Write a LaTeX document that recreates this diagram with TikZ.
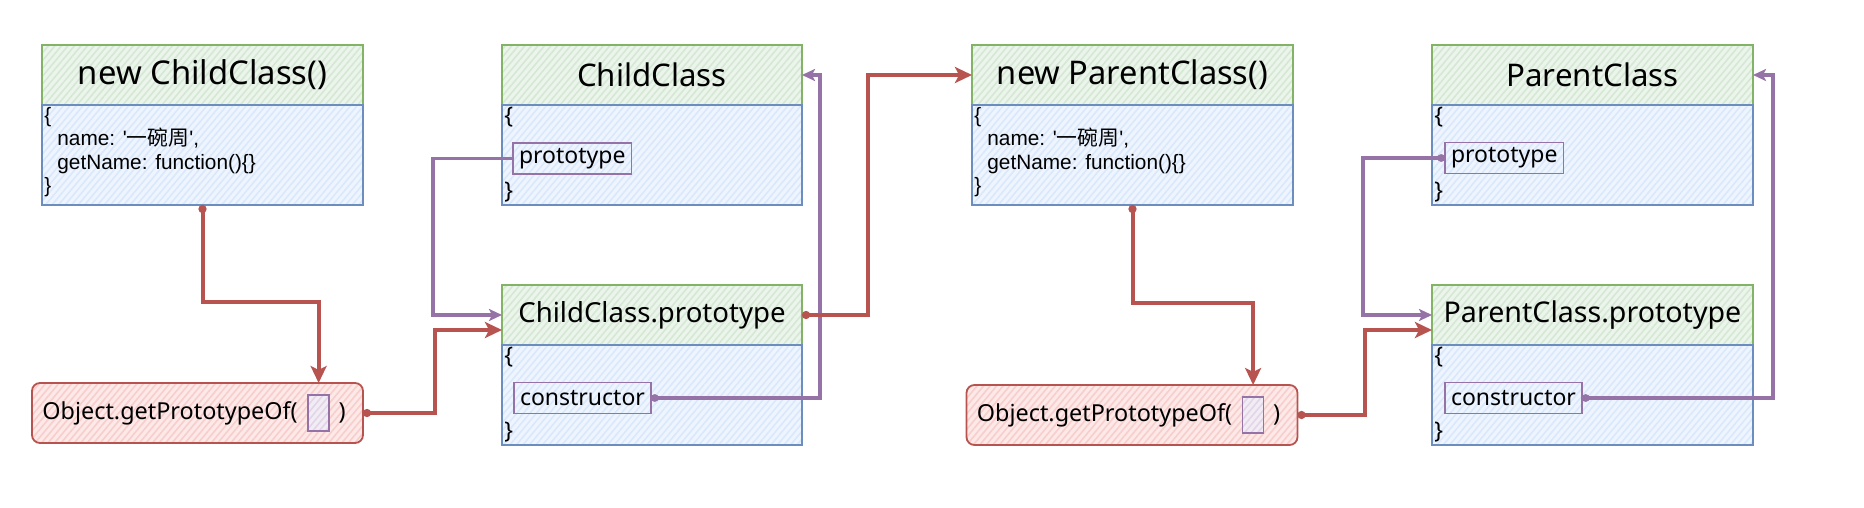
\documentclass[tikz,border=0pt]{standalone}
\usepackage{fontspec}
\setmainfont{Noto Sans}
\newfontfamily\codefont{Liberation Sans}
\newfontfamily\cjk{Noto Sans CJK SC}
\usetikzlibrary{positioning,arrows.meta,patterns.meta}
\definecolor{greenF}{HTML}{D5E8D4}
\definecolor{greenS}{HTML}{82B366}
\definecolor{blueF}{HTML}{DAE8FC}
\definecolor{blueS}{HTML}{6C8EBF}
\definecolor{redF}{HTML}{F8CECC}
\definecolor{redS}{HTML}{B85450}
\definecolor{purpF}{HTML}{E1D5E7}
\definecolor{purpS}{HTML}{9673A6}
\tikzset{hatch/.style 2 args={draw=#2, preaction={fill=#1!45},
        pattern={Lines[angle=50,distance=2.5pt,line width=0.8pt]}, pattern color=#1},
    head/.style={hatch={greenF}{greenS}, line width=0.9pt, minimum height=30pt,
        inner sep=0pt, outer sep=0pt, font=\fontsize{15.6}{18}\selectfont},
    body/.style={hatch={blueF}{blueS}, line width=0.9pt, minimum height=50pt,
        inner sep=0pt, outer sep=0pt},
    field/.style={draw=purpS, line width=0.8pt, inner xsep=3pt, inner ysep=0pt,
        minimum height=15.5pt, outer sep=0pt, font=\fontsize{11.5}{13}\selectfont},
    brace/.style={inner sep=1pt, font=\fontsize{11.5}{13}\selectfont},
    code/.style={inner sep=1pt, align=left, font=\codefont\fontsize{10.4}{11.7}\selectfont},
    objbox/.style={hatch={redF}{redS}, line width=0.9pt, rounded corners=4pt,
        minimum width=165.5pt, minimum height=30pt, outer sep=0pt},
    objtext/.style={inner sep=0pt, font=\fontsize{11.7}{14}\selectfont},
    slot/.style={hatch={purpF}{purpS}, line width=0.8pt, minimum width=10.5pt,
        minimum height=18pt, inner sep=0pt, outer sep=0pt},
    redline/.style={draw=redS, line width=2pt, -{Stealth[length=8.5pt,width=8pt,inset=2pt]}},
    reddot/.style={redline, {Circle[length=4pt]}-{Stealth[length=8.5pt,width=8pt,inset=2pt]}},
    purpline/.style={draw=purpS, line width=1.6pt, -{Stealth[length=6.5pt,width=6pt,inset=1.5pt]}},
    purpdot/.style={purpline, {Circle[length=3.8pt]}-{Stealth[length=6.5pt,width=6pt,inset=1.5pt]}},
    }
\begin{document}
\begin{tikzpicture}[x=0.5pt,y=-0.5pt]
	\useasboundingbox (0,0) rectangle (1864,508);
	% instance of ChildClass
	\node[head, minimum width=160.5pt, font=\fontsize{16.4}{18}\selectfont] (h1) at (202.5,75) {new ChildClass()};
	\node[body, minimum width=160.5pt, below=0pt of h1] (b1) {};
	\node[code, anchor=north west] (t1) at (b1.north west)
		{\{\\\hspace*{6.5pt}name: '{\cjk 一碗周}',\\\hspace*{6.5pt}getName: function()\{\}\\\}};
	\node[objbox] (o1) at (197.5,413) {};
	\node[objtext, anchor=west] (o1t) at ([xshift=5pt]o1.west) {Object.getPrototypeOf(};
	\node[slot, right=5pt of o1t] (o1s) {};
	\node[objtext, right=4.5pt of o1s] (o1e) {)};
	% ChildClass and its prototype
	\node[head, minimum width=150pt] (h2) at (652,75) {ChildClass};
	\node[body, minimum width=150pt, below=0pt of h2] (b2) {};
	\node[brace, anchor=north west] (b2o) at (b2.north west) {\{};
	\node[field, anchor=west] (p2) at ([xshift=5.5pt,yshift=-1.75pt]b2.west) {prototype};
	\node[brace, anchor=south west] (b2c) at (b2.south west) {\}};
	\node[head, minimum width=150pt, font=\fontsize{13.8}{16}\selectfont] (h3) at (652,315) {ChildClass.prototype};
	\node[body, minimum width=150pt, below=0pt of h3] (b3) {};
	\node[brace, anchor=north west] (b3o) at (b3.north west) {\{};
	\node[field, anchor=west] (c3) at ([xshift=6pt,yshift=-1.5pt]b3.west) {constructor};
	\node[brace, anchor=south west] (b3c) at (b3.south west) {\}};
	% instance of ParentClass
	\node[head, minimum width=160.5pt, font=\fontsize{16.3}{18}\selectfont] (h4) at (1132.5,75) {new ParentClass()};
	\node[body, minimum width=160.5pt, below=0pt of h4] (b4) {};
	\node[code, anchor=north west] (t4) at (b4.north west)
		{\{\\\hspace*{6.5pt}name: '{\cjk 一碗周}',\\\hspace*{6.5pt}getName: function()\{\}\\\}};
	\node[objbox] (o2) at (1132,415) {};
	\node[objtext, anchor=west] (o2t) at ([xshift=5pt]o2.west) {Object.getPrototypeOf(};
	\node[slot, right=5pt of o2t] (o2s) {};
	\node[objtext, right=4.5pt of o2s] (o2e) {)};
	% ParentClass and its prototype
	\node[head, minimum width=160.5pt] (h5) at (1592.5,75) {ParentClass};
	\node[body, minimum width=160.5pt, below=0pt of h5] (b5) {};
	\node[brace, anchor=north west] (b5o) at (b5.north west) {\{};
	\node[field, anchor=west] (p5) at ([xshift=6.5pt,yshift=-1.5pt]b5.west) {prototype};
	\node[brace, anchor=south west] (b5c) at (b5.south west) {\}};
	\node[head, minimum width=160.5pt, font=\fontsize{14.3}{16}\selectfont] (h6) at (1592.5,315) {ParentClass.prototype};
	\node[body, minimum width=160.5pt, below=0pt of h6] (b6) {};
	\node[brace, anchor=north west] (b6o) at (b6.north west) {\{};
	\node[field, anchor=west] (c6) at ([xshift=6.5pt,yshift=-1.5pt]b6.west) {constructor};
	\node[brace, anchor=south west] (b6c) at (b6.south west) {\}};
	% links
	\draw[reddot] (b1.south) -- ++(0,97) -| (o1s |- o1.north);
	\draw[reddot] (o1.east) -| ([xshift=-33.5pt,yshift=-7.5pt]h3.west) -- ([yshift=-7.5pt]h3.west);
	\draw[purpline] (p2.west) -| ([xshift=-34.5pt]h3.west) -- (h3.west);
	\draw[purpdot] (c3.east) -| ([xshift=9pt]h2.east) -- (h2.east);
	\draw[reddot] (h3.east) -| ([xshift=-52pt]h4.west) -- (h4.west);
	\draw[reddot] (b4.south) -- ++(0,98) -| (o2s |- o2.north);
	\draw[reddot] (o2.east) -| ([xshift=-33.5pt,yshift=-7.5pt]h6.west) -- ([yshift=-7.5pt]h6.west);
	\draw[purpdot] (p5.west) -| ([xshift=-34.5pt]h6.west) -- (h6.west);
	\draw[purpdot] (c6.east) -| ([xshift=10pt]h5.east) -- (h5.east);
\end{tikzpicture}
\end{document}
